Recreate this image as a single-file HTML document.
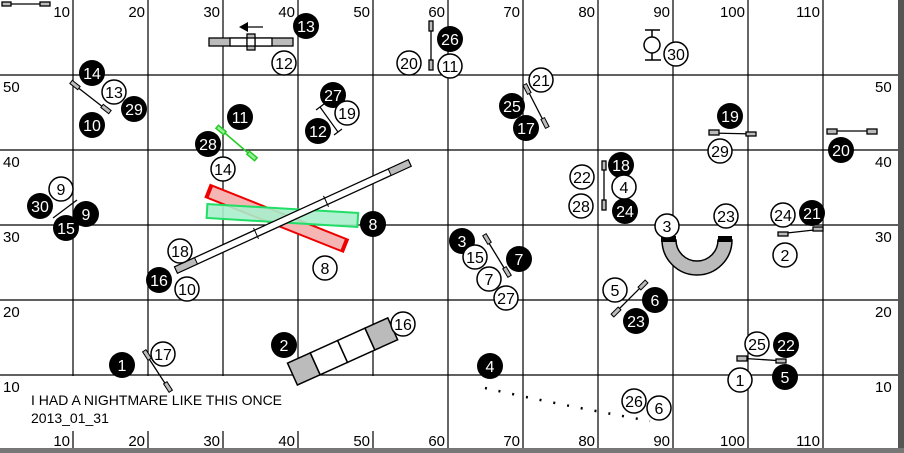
<!DOCTYPE html>
<html><head><meta charset="utf-8"><style>
html,body{margin:0;padding:0;background:#fff;}
svg{display:block;}
text{font-family:"Liberation Sans",Arial,sans-serif;}
.b circle{fill:#000;}
.b text{fill:#fff;font-size:16px;text-anchor:middle;}
.w circle{fill:#fff;stroke:#000;stroke-width:1.5;}
.w text{fill:#000;font-size:16px;text-anchor:middle;}
.ax{font-size:15px;fill:#000;}
</style></head><body>
<svg width="904" height="453" viewBox="0 0 904 453" xmlns="http://www.w3.org/2000/svg">
<rect width="904" height="453" fill="#fff"/>
<g stroke="#000" stroke-width="1.2">
<line x1="73" y1="0" x2="73" y2="453"/><line x1="148" y1="0" x2="148" y2="453"/>
<line x1="223" y1="0" x2="223" y2="453"/><line x1="298" y1="0" x2="298" y2="453"/>
<line x1="373" y1="0" x2="373" y2="453"/><line x1="448" y1="0" x2="448" y2="453"/>
<line x1="523" y1="0" x2="523" y2="453"/><line x1="598" y1="0" x2="598" y2="453"/>
<line x1="673" y1="0" x2="673" y2="453"/><line x1="748" y1="0" x2="748" y2="453"/>
<line x1="823" y1="0" x2="823" y2="453"/>
<line x1="0" y1="75" x2="898" y2="75"/><line x1="0" y1="150" x2="898" y2="150"/>
<line x1="0" y1="225" x2="898" y2="225"/><line x1="0" y1="300" x2="898" y2="300"/>
<line x1="0" y1="375" x2="898" y2="375"/>
</g>
<rect x="0" y="376" width="380" height="55" fill="#fff"/>
<rect x="898" y="0" width="6" height="453" fill="#555"/>
<rect x="0" y="448" width="904" height="5" fill="#777"/>
<g class="ax" text-anchor="end">
<text x="70" y="17">10</text><text x="145" y="17">20</text><text x="220" y="17">30</text><text x="295" y="17">40</text><text x="370" y="17">50</text><text x="445" y="17">60</text><text x="520" y="17">70</text><text x="595" y="17">80</text><text x="670" y="17">90</text><text x="745" y="17">100</text><text x="820" y="17">110</text>
<text x="70" y="446">10</text><text x="145" y="446">20</text><text x="220" y="446">30</text><text x="295" y="446">40</text><text x="370" y="446">50</text><text x="445" y="446">60</text><text x="520" y="446">70</text><text x="595" y="446">80</text><text x="670" y="446">90</text><text x="745" y="446">100</text><text x="820" y="446">110</text>
</g>
<g class="ax">
<text x="3" y="92">50</text><text x="3" y="167">40</text><text x="3" y="242">30</text><text x="3" y="317">20</text><text x="3" y="392">10</text>
<text x="875" y="92">50</text><text x="875" y="167">40</text><text x="875" y="242">30</text><text x="875" y="317">20</text><text x="875" y="392">10</text>
</g>
<text x="31" y="405" font-size="14">I HAD A NIGHTMARE LIKE THIS ONCE</text>
<text x="31" y="423" font-size="14">2013_01_31</text>

<!-- jumps -->
<g stroke="#000" stroke-width="1.3" fill="#bbb">
<line x1="5" y1="4" x2="48" y2="4"/><rect x="2" y="2" width="9" height="4"/><rect x="40" y="2" width="10" height="4"/>
<line x1="431" y1="22" x2="431" y2="68"/><rect x="429" y="21" width="4" height="10"/><rect x="429" y="60" width="4" height="10"/>
<line x1="72" y1="83" x2="108" y2="111"/>
<line x1="525" y1="85" x2="546" y2="126"/>
<line x1="709" y1="133" x2="756" y2="134"/><rect x="709" y="130" width="10" height="5"/><rect x="746" y="132" width="10" height="4"/>
<line x1="828" y1="131" x2="877" y2="131"/><rect x="827" y="129" width="10" height="5"/><rect x="867" y="129" width="10" height="5"/>
<line x1="604" y1="162" x2="604" y2="210"/><rect x="602" y="161" width="4" height="9"/><rect x="602" y="200" width="4" height="10"/>
<line x1="53" y1="218" x2="77" y2="200"/>
<line x1="484" y1="235" x2="509" y2="276"/>
<line x1="612" y1="316" x2="646" y2="282"/>
<line x1="144" y1="351" x2="170" y2="391"/>
<line x1="737" y1="358" x2="785" y2="361"/><rect x="737" y="356" width="10" height="5"/><rect x="776" y="359" width="10" height="4"/>
<line x1="778" y1="234" x2="823" y2="229"/><rect x="778" y="232" width="10" height="4"/><rect x="813" y="227" width="10" height="4"/>
</g>
<g fill="#bbb" stroke="#000" stroke-width="1">
<rect x="-5" y="-2" width="10" height="4" transform="translate(75,85) rotate(38)"/>
<rect x="-5" y="-2" width="10" height="4" transform="translate(106,109) rotate(38)"/>
<rect x="-5" y="-2" width="10" height="4" transform="translate(527,89) rotate(63)"/>
<rect x="-5" y="-2" width="10" height="4" transform="translate(545,123) rotate(63)"/>
<rect x="-5" y="-2" width="10" height="4" transform="translate(487,239) rotate(59)"/>
<rect x="-5" y="-2" width="10" height="4" transform="translate(507,272) rotate(59)"/>
<rect x="-5" y="-2" width="10" height="4" transform="translate(616,312) rotate(-45)"/>
<rect x="-5" y="-2" width="10" height="4" transform="translate(643,285) rotate(-45)"/>
<rect x="-5" y="-2" width="10" height="4" transform="translate(147,355) rotate(57)"/>
<rect x="-5" y="-2" width="10" height="4" transform="translate(168,387) rotate(57)"/>
</g>
<!-- green jump -->
<g stroke="#2c2" stroke-width="1.5" fill="#9e9">
<line x1="219" y1="128" x2="254" y2="158"/>
<rect x="-5" y="-2" width="10" height="4" transform="translate(221,130) rotate(40)"/>
<rect x="-5" y="-2" width="10" height="4" transform="translate(252,156) rotate(40)"/>
</g>
<!-- T jump -->
<g stroke="#000" stroke-width="1.2">
<line x1="320" y1="107" x2="338" y2="132"/><line x1="316" y1="110" x2="324" y2="104"/><line x1="334" y1="135" x2="342" y2="129"/>
</g>
<!-- table/pause top -->
<g stroke="#000" stroke-width="1.3">
<rect x="209" y="38" width="84" height="8" fill="#bbb"/><rect x="230" y="38" width="42" height="8" fill="#fff"/>
<rect x="247" y="34" width="8" height="16" fill="#bbb"/><rect x="247" y="38" width="8" height="8" fill="#fff"/>
<line x1="246" y1="27" x2="263" y2="27"/>
</g>
<polygon points="239,27 248,22 248,32" fill="#000"/>
<!-- lollipop -->
<g stroke="#000" stroke-width="1.5" fill="#fff">
<line x1="645" y1="30" x2="660" y2="30"/><line x1="645" y1="60" x2="661" y2="60"/>
<line x1="652" y1="30" x2="652" y2="60"/><circle cx="652" cy="45" r="8"/>
</g>
<!-- tunnel arc -->
<path d="M662,240 A35,35 0 0 0 732,240 L718,240 A21,21 0 0 1 676,240 Z" fill="#bbb" stroke="#000" stroke-width="1.5"/>
<rect x="661" y="236" width="15" height="6" fill="#000"/><rect x="718" y="236" width="14" height="6" fill="#000"/>
<!-- red, green, plank -->
<g transform="translate(208,191) rotate(21.7)"><rect x="0" y="-6.5" width="148" height="13" fill="#f5b5b5" stroke="#e00" stroke-width="2"/><rect x="0" y="-6.5" width="3" height="13" fill="#e00"/><rect x="145" y="-6.5" width="3" height="13" fill="#e00"/></g>
<g transform="translate(207,211) rotate(3.4)"><rect x="0" y="-7" width="151" height="14" fill="#a8f0cc" fill-opacity="0.9" stroke="#2d6" stroke-width="2"/></g>
<g transform="translate(176,270) rotate(-24.6)"><rect x="0" y="-3.5" width="257" height="7" fill="#fff" stroke="#000" stroke-width="1.3"/><rect x="0" y="-3.5" width="22" height="7" fill="#bbb" stroke="#000"/><rect x="235" y="-3.5" width="22" height="7" fill="#bbb" stroke="#000"/><line x1="88" y1="-6" x2="88" y2="6" stroke="#000"/><line x1="165" y1="-6" x2="165" y2="6" stroke="#000"/></g>
<!-- A-frame -->
<g transform="translate(297,372) rotate(-24.3)" stroke="#000" stroke-width="1.5"><rect x="-5" y="-12" width="25" height="24" fill="#bbb"/><rect x="20" y="-12" width="30" height="24" fill="#fff"/><rect x="50" y="-12" width="30" height="24" fill="#fff"/><rect x="80" y="-12" width="25" height="24" fill="#bbb"/></g>
<!-- dotted -->
<path d="M485,388 Q560,405 650,421" fill="none" stroke="#000" stroke-width="2.5" stroke-dasharray="2,12"/>
<!-- circles -->
<g class="b">
<g transform="translate(306,26)"><circle r="13"/><text y="6">13</text></g>
<g transform="translate(450,39)"><circle r="13"/><text y="6">26</text></g>
<g transform="translate(92,73)"><circle r="13"/><text y="6">14</text></g>
<g transform="translate(134,109)"><circle r="13"/><text y="6">29</text></g>
<g transform="translate(92,125)"><circle r="13"/><text y="6">10</text></g>
<g transform="translate(240,117)"><circle r="13"/><text y="6">11</text></g>
<g transform="translate(333,95)"><circle r="13"/><text y="6">27</text></g>
<g transform="translate(318,131)"><circle r="13"/><text y="6">12</text></g>
<g transform="translate(208,144)"><circle r="13"/><text y="6">28</text></g>
<g transform="translate(512,106)"><circle r="13"/><text y="6">25</text></g>
<g transform="translate(526,128)"><circle r="13"/><text y="6">17</text></g>
<g transform="translate(730,116)"><circle r="13"/><text y="6">19</text></g>
<g transform="translate(841,150)"><circle r="13"/><text y="6">20</text></g>
<g transform="translate(621,165)"><circle r="13"/><text y="6">18</text></g>
<g transform="translate(625,211)"><circle r="13"/><text y="6">24</text></g>
<g transform="translate(812,213)"><circle r="13"/><text y="6">21</text></g>
<g transform="translate(40,206)"><circle r="13"/><text y="6">30</text></g>
<g transform="translate(86,214)"><circle r="13"/><text y="6">9</text></g>
<g transform="translate(66,228)"><circle r="13"/><text y="6">15</text></g>
<g transform="translate(373,224)"><circle r="13"/><text y="6">8</text></g>
<g transform="translate(462,241)"><circle r="13"/><text y="6">3</text></g>
<g transform="translate(519,259)"><circle r="13"/><text y="6">7</text></g>
<g transform="translate(159,280)"><circle r="13"/><text y="6">16</text></g>
<g transform="translate(655,300)"><circle r="13"/><text y="6">6</text></g>
<g transform="translate(636,321)"><circle r="13"/><text y="6">23</text></g>
<g transform="translate(284,345)"><circle r="13"/><text y="6">2</text></g>
<g transform="translate(122,365)"><circle r="13"/><text y="6">1</text></g>
<g transform="translate(786,345)"><circle r="13"/><text y="6">22</text></g>
<g transform="translate(785,377)"><circle r="13"/><text y="6">5</text></g>
<g transform="translate(490,366)"><circle r="13"/><text y="6">4</text></g>
</g>
<g class="w">
<g transform="translate(284,63)"><circle r="12"/><text y="6">12</text></g>
<g transform="translate(409,63)"><circle r="12"/><text y="6">20</text></g>
<g transform="translate(450,66)"><circle r="12"/><text y="6">11</text></g>
<g transform="translate(676,54)"><circle r="12"/><text y="6">30</text></g>
<g transform="translate(541,80)"><circle r="12"/><text y="6">21</text></g>
<g transform="translate(114,92)"><circle r="12"/><text y="6">13</text></g>
<g transform="translate(347,113)"><circle r="12"/><text y="6">19</text></g>
<g transform="translate(223,169)"><circle r="12"/><text y="6">14</text></g>
<g transform="translate(720,151)"><circle r="12"/><text y="6">29</text></g>
<g transform="translate(582,177)"><circle r="12"/><text y="6">22</text></g>
<g transform="translate(624,187)"><circle r="12"/><text y="6">4</text></g>
<g transform="translate(581,206)"><circle r="12"/><text y="6">28</text></g>
<g transform="translate(726,216)"><circle r="12"/><text y="6">23</text></g>
<g transform="translate(783,215)"><circle r="12"/><text y="6">24</text></g>
<g transform="translate(667,226)"><circle r="12"/><text y="6">3</text></g>
<g transform="translate(785,255)"><circle r="12"/><text y="6">2</text></g>
<g transform="translate(61,189)"><circle r="12"/><text y="6">9</text></g>
<g transform="translate(180,251)"><circle r="12"/><text y="6">18</text></g>
<g transform="translate(187,289)"><circle r="12"/><text y="6">10</text></g>
<g transform="translate(325,268)"><circle r="12"/><text y="6">8</text></g>
<g transform="translate(475,257)"><circle r="12"/><text y="6">15</text></g>
<g transform="translate(489,279)"><circle r="12"/><text y="6">7</text></g>
<g transform="translate(506,298)"><circle r="12"/><text y="6">27</text></g>
<g transform="translate(615,290)"><circle r="12"/><text y="6">5</text></g>
<g transform="translate(403,324)"><circle r="12"/><text y="6">16</text></g>
<g transform="translate(163,354)"><circle r="12"/><text y="6">17</text></g>
<g transform="translate(757,344)"><circle r="12"/><text y="6">25</text></g>
<g transform="translate(740,380)"><circle r="12"/><text y="6">1</text></g>
<g transform="translate(634,401)"><circle r="12"/><text y="6">26</text></g>
<g transform="translate(659,408)"><circle r="12"/><text y="6">6</text></g>
</g>
</svg>
</body></html>
